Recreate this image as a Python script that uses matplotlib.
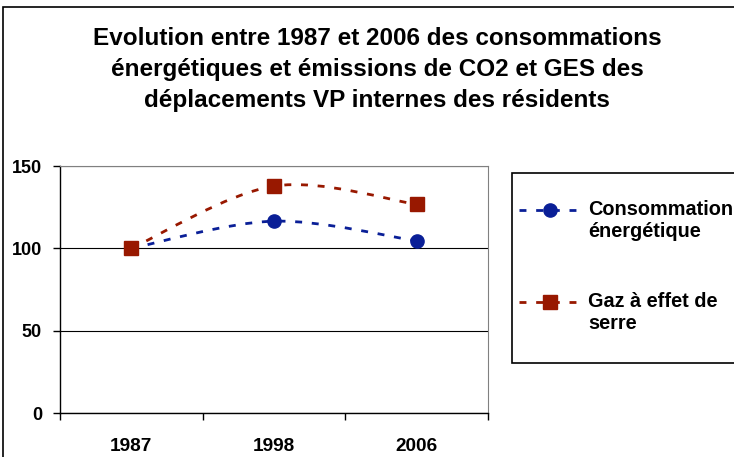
import matplotlib
matplotlib.use("Agg")
import matplotlib.pyplot as plt
from matplotlib.path import Path
from matplotlib.patches import PathPatch, Rectangle
from matplotlib.lines import Line2D

plt.rcParams['font.family'] = ['Liberation Sans', 'DejaVu Sans']

years = ["1987", "1998", "2006"]
conso = [100, 116.5, 104.5]
ges = [100, 137.8, 126.7]
series_names = ["Consommation\nénergétique", "Gaz à effet de\nserre"]
yticks = [0, 50, 100, 150]
title_lines = ["Evolution entre 1987 et 2006 des consommations",
               "énergétiques et émissions de CO2 et GES des",
               "déplacements VP internes des résidents"]

BLUE = "#0a1f97"
RED = "#981800"

W, H = 734, 457
fig = plt.figure(figsize=(W / 100, H / 100), dpi=100)

def fx(px):
    return px / W

def fy(py):
    return 1 - py / H

# chart frame (cropped)
fig.patches.append(Rectangle((fx(3), fy(470)), fx(760), fy(7) - fy(470),
                             transform=fig.transFigure, fill=False,
                             edgecolor="black", linewidth=1.2, zorder=0))

ax = fig.add_axes([fx(60), fy(413), fx(488) - fx(60), fy(166) - fy(413)])
ax.set_xlim(-0.5, 2.5)
ax.set_ylim(0, 150)
ax.set_yticks(yticks)
ax.set_yticklabels([str(v) for v in yticks], fontsize=13, fontweight="bold")
ax.set_xticks(range(len(years)))
ax.set_xticklabels(years, fontsize=13.7, fontweight="bold")
ax.set_xticks([i - 0.5 for i in range(len(years) + 1)], minor=True)
ax.tick_params(axis="x", which="major", length=0, pad=18)
ax.tick_params(axis="x", which="minor", length=5, width=1, direction="out")
ax.tick_params(axis="y", which="major", length=5, width=1, direction="out", pad=8)
ax.yaxis.grid(True, color="black", linewidth=0.8)
ax.set_axisbelow(True)
for s in ["left", "bottom"]:
    ax.spines[s].set_color("black")
    ax.spines[s].set_linewidth(1)
ax.spines["top"].set_color("#808080")
ax.spines["right"].set_color("#808080")


def smooth_path(xs, ys):
    pts = list(zip(xs, ys))
    n = len(pts)
    verts = [pts[0]]
    codes = [Path.MOVETO]
    for i in range(n - 1):
        p0 = pts[i - 1] if i > 0 else pts[i]
        p1 = pts[i]
        p2 = pts[i + 1]
        p3 = pts[i + 2] if i + 2 < n else pts[i + 1]
        c1 = (p1[0] + (p2[0] - p0[0]) / 6, p1[1] + (p2[1] - p0[1]) / 6)
        c2 = (p2[0] - (p3[0] - p1[0]) / 6, p2[1] - (p3[1] - p1[1]) / 6)
        verts += [c1, c2, p2]
        codes += [Path.CURVE4] * 3
    return Path(verts, codes)


xs = list(range(len(years)))
for vals, color, marker in [(conso, BLUE, "o"), (ges, RED, "s")]:
    patch = PathPatch(smooth_path(xs, vals), fill=False, edgecolor=color,
                      linewidth=2.0, linestyle=(0, (2.5, 3.5)), zorder=3)
    ax.add_patch(patch)
    ax.plot(xs, vals, linestyle="none", marker=marker, markersize=9.5,
            color=color, zorder=4, clip_on=False)

# title
for i, line in enumerate(title_lines):
    fig.text(fx(377), fy(45 + i * 31), line, ha="center", va="baseline",
             fontsize=17.5, fontweight="bold")

# legend
fig.patches.append(Rectangle((fx(512), fy(363)), fx(760) - fx(512), fy(173) - fy(363),
                             transform=fig.transFigure, facecolor="white",
                             edgecolor="black", linewidth=1.2, zorder=1))
leg_rows = [(BLUE, "o", 210, 215), (RED, "s", 302, 307)]
for (color, marker, ymark, ybase), name in zip(leg_rows, series_names):
    fig.lines.append(Line2D([fx(519), fx(578)], [fy(ymark), fy(ymark)],
                            transform=fig.transFigure, color=color,
                            linewidth=2.0, linestyle=(0, (2.5, 3.5)), zorder=2))
    fig.lines.append(Line2D([fx(550)], [fy(ymark)], transform=fig.transFigure,
                            color=color, marker=marker, markersize=9.5,
                            linestyle="none", zorder=3))
    l1, l2 = name.split("\n")
    fig.text(fx(588), fy(ybase), l1, fontsize=14.3, fontweight="bold",
             va="baseline", ha="left", zorder=3)
    fig.text(fx(588), fy(ybase + 22), l2, fontsize=14.3, fontweight="bold",
             va="baseline", ha="left", zorder=3)

fig.savefig("out.png", dpi=100)
